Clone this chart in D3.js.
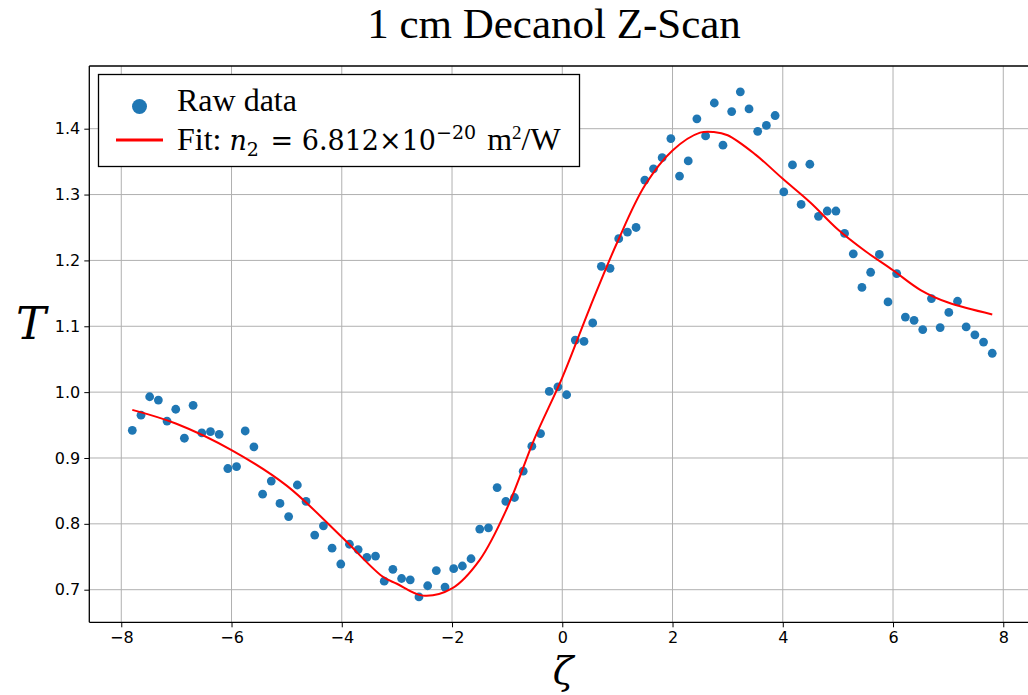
<!DOCTYPE html>
<html lang="en">
<head>
    <meta charset="UTF-8">
    <script src="https://cdnjs.cloudflare.com/ajax/libs/d3/7.8.5/d3.min.js"></script>
    <style>
        body { margin: 0; background: #fff; }
    </style>
</head>
<body>
    <svg id="chart" width="1028" height="695"></svg>
    <script>
        // sample positions (zeta) of the raw data
        const zeta = [
            -7.800, -7.642, -7.485, -7.327, -7.170, -7.012, -6.855, -6.697, -6.539, -6.382,
            -6.224, -6.067, -5.909, -5.752, -5.594, -5.436, -5.279, -5.121, -4.964, -4.806,
            -4.648, -4.491, -4.333, -4.176, -4.018, -3.861, -3.703, -3.545, -3.388, -3.230,
            -3.073, -2.915, -2.758, -2.600, -2.442, -2.285, -2.127, -1.970, -1.812, -1.655,
            -1.497, -1.339, -1.182, -1.024, -0.867, -0.709, -0.552, -0.394, -0.236, -0.079,
            0.079, 0.236, 0.394, 0.552, 0.709, 0.867, 1.024, 1.182, 1.339, 1.497,
            1.655, 1.812, 1.970, 2.127, 2.285, 2.442, 2.600, 2.758, 2.915, 3.073,
            3.230, 3.388, 3.545, 3.703, 3.861, 4.018, 4.176, 4.333, 4.491, 4.648,
            4.806, 4.964, 5.121, 5.279, 5.436, 5.594, 5.752, 5.909, 6.067, 6.224,
            6.382, 6.539, 6.697, 6.855, 7.012, 7.170, 7.327, 7.485, 7.642, 7.800
        ];
        // measured transmittance
        const rawT = [
            0.942, 0.965, 0.993, 0.988, 0.956, 0.974, 0.930, 0.980, 0.938, 0.940,
            0.936, 0.884, 0.887, 0.941, 0.917, 0.845, 0.865, 0.831, 0.811, 0.859,
            0.834, 0.783, 0.797, 0.763, 0.739, 0.769, 0.761, 0.749, 0.751, 0.713,
            0.731, 0.717, 0.715, 0.689, 0.706, 0.729, 0.704, 0.732, 0.736, 0.747,
            0.792, 0.794, 0.855, 0.834, 0.840, 0.880, 0.918, 0.937, 1.001, 1.008,
            0.996, 1.079, 1.077, 1.105, 1.191, 1.188, 1.233, 1.243, 1.250, 1.322,
            1.339, 1.356, 1.385, 1.328, 1.351, 1.415, 1.389, 1.439, 1.375, 1.426,
            1.456, 1.430, 1.396, 1.405, 1.420, 1.304, 1.345, 1.285, 1.346, 1.267,
            1.275, 1.275, 1.241, 1.210, 1.159, 1.182, 1.209, 1.137, 1.180, 1.114,
            1.109, 1.095, 1.142, 1.098, 1.121, 1.138, 1.099, 1.087, 1.076, 1.059
        ];
        // fitted curve
        const fitZ = [-7.8, -7, -6, -5, -4, -3.26, -3, -2.53, -2, -1.5, -1, -0.5, 0, 0.5, 1,
            1.5, 2, 2.5, 2.75, 3, 3.5, 4, 4.5, 5, 5.5, 6, 6.5, 7, 7.8];
        const fitT = [0.973, 0.952, 0.912, 0.858, 0.780, 0.720, 0.709, 0.691, 0.702, 0.745, 0.824,
            0.930, 1.022, 1.128, 1.228, 1.314, 1.367, 1.394, 1.395, 1.390, 1.361, 1.324, 1.288,
            1.247, 1.214, 1.185, 1.155, 1.136, 1.118];

        const xTicks = [-8, -6, -4, -2, 0, 2, 4, 6, 8];
        const yTicks = [0.7, 0.8, 0.9, 1.0, 1.1, 1.2, 1.3, 1.4];

        const blue = "#1f77b4", red = "#ff0000", grid = "#b0b0b0";
        const plotLeft = 89.3, plotTop = 66, plotBottom = 622.3;

        const svg = d3.select("#chart");

        const xScale = d3.scaleLinear().domain([-8.58, 8.58]).range([plotLeft, plotLeft + 17.16 * 55.125]);
        const yScale = d3.scaleLinear().domain([0.6505, 1.4952]).range([plotBottom, plotTop]);

        // grid
        svg.append("g").selectAll("line.vx")
            .data(xTicks)
            .enter()
            .append("line")
            .attr("x1", d => xScale(d)).attr("x2", d => xScale(d))
            .attr("y1", plotTop).attr("y2", plotBottom)
            .attr("stroke", grid).attr("stroke-width", 1);

        svg.append("g").selectAll("line.hy")
            .data(yTicks)
            .enter()
            .append("line")
            .attr("x1", plotLeft).attr("x2", 1028)
            .attr("y1", d => yScale(d)).attr("y2", d => yScale(d))
            .attr("stroke", grid).attr("stroke-width", 1);

        // axes
        const xAxis = d3.axisBottom(xScale)
            .tickValues(xTicks)
            .tickSize(5)
            .tickPadding(4)
            .tickFormat(d3.format("d"));

        const yAxis = d3.axisLeft(yScale)
            .tickValues(yTicks)
            .tickSize(5)
            .tickPadding(4)
            .tickFormat(d3.format(".1f"));

        const gx = svg.append("g")
            .attr("transform", `translate(0,${plotBottom})`)
            .call(xAxis);
        const gy = svg.append("g")
            .attr("transform", `translate(${plotLeft},0)`)
            .call(yAxis);

        [gx, gy].forEach(g => {
            g.select(".domain").remove();
            g.selectAll("line").attr("stroke", "#000").attr("stroke-width", 1);
            g.selectAll("text")
                .attr("fill", "#000")
                .style("font-family", "DejaVu Sans")
                .style("font-size", "16px");
        });

        // spines
        svg.append("line").attr("x1", plotLeft).attr("x2", plotLeft).attr("y1", plotTop).attr("y2", plotBottom)
            .attr("stroke", "#000").attr("stroke-width", 1.3);
        svg.append("line").attr("x1", plotLeft).attr("x2", 1028).attr("y1", plotBottom).attr("y2", plotBottom)
            .attr("stroke", "#000").attr("stroke-width", 1.3);
        svg.append("line").attr("x1", plotLeft).attr("x2", 1028).attr("y1", plotTop).attr("y2", plotTop)
            .attr("stroke", "#000").attr("stroke-width", 1.3);

        // raw data
        svg.append("g").selectAll("circle.raw")
            .data(zeta.map((z, i) => ({ z: z, t: rawT[i] })))
            .enter()
            .append("circle")
            .attr("r", 4.4)
            .attr("cx", d => xScale(d.z))
            .attr("cy", d => yScale(d.t))
            .style("fill", blue);

        // fit
        const fitLine = d3.line()
            .x(d => xScale(d.z))
            .y(d => yScale(d.t))
            .curve(d3.curveCatmullRom.alpha(0.5));

        svg.append("path")
            .attr("d", fitLine(fitZ.map((z, i) => ({ z: z, t: fitT[i] }))))
            .attr("fill", "none")
            .attr("stroke", red)
            .attr("stroke-width", 2);

        // title and axis labels
        svg.append("text")
            .attr("x", 554).attr("y", 38)
            .attr("text-anchor", "middle")
            .style("font-family", "Liberation Serif")
            .style("font-size", "43px")
            .text("1 cm Decanol Z-Scan");

        svg.append("text")
            .attr("x", 31).attr("y", 339)
            .attr("text-anchor", "middle")
            .style("font-family", "DejaVu Serif")
            .style("font-style", "italic")
            .style("font-size", "45px")
            .text("T");

        svg.append("text")
            .attr("x", 563).attr("y", 684)
            .attr("text-anchor", "middle")
            .style("font-family", "DejaVu Serif")
            .style("font-style", "italic")
            .style("font-size", "38px")
            .text("ζ");

        // legend
        const legend = svg.append("g");
        legend.append("rect")
            .attr("x", 98.5).attr("y", 74.5)
            .attr("width", 481).attr("height", 92)
            .attr("fill", "#fff")
            .attr("stroke", "#000")
            .attr("stroke-width", 1.3);
        legend.append("circle")
            .attr("cx", 139.5).attr("cy", 106.5).attr("r", 7.5)
            .style("fill", blue);
        legend.append("line")
            .attr("x1", 116).attr("x2", 163)
            .attr("y1", 140).attr("y2", 140)
            .attr("stroke", red).attr("stroke-width", 3);
        legend.append("text")
            .attr("x", 177).attr("y", 111)
            .style("font-family", "Liberation Serif")
            .style("font-size", "32px")
            .text("Raw data");

        const fitText = legend.append("text")
            .attr("x", 177).attr("y", 150)
            .style("font-family", "Liberation Serif")
            .style("font-size", "32px");
        fitText.append("tspan").text("Fit: ");
        fitText.append("tspan")
            .style("font-family", "DejaVu Serif").style("font-style", "italic")
            .style("font-size", "27px")
            .text("n");
        fitText.append("tspan")
            .style("font-family", "DejaVu Serif").style("font-size", "19px")
            .attr("dy", 6).text("2");
        fitText.append("tspan")
            .style("font-family", "DejaVu Serif").style("font-size", "27px")
            .attr("dx", 3).attr("dy", -6).text(" = 6.812×10");
        fitText.append("tspan")
            .style("font-family", "DejaVu Serif").style("font-size", "19px")
            .attr("dy", -11).text("−20");
        fitText.append("tspan")
            .attr("dx", 3).attr("dy", 11).text(" m");
        fitText.append("tspan")
            .style("font-size", "19px")
            .attr("dy", -11).text("2");
        fitText.append("tspan")
            .attr("dy", 11).text("/W");
    </script>
</body>
</html>
